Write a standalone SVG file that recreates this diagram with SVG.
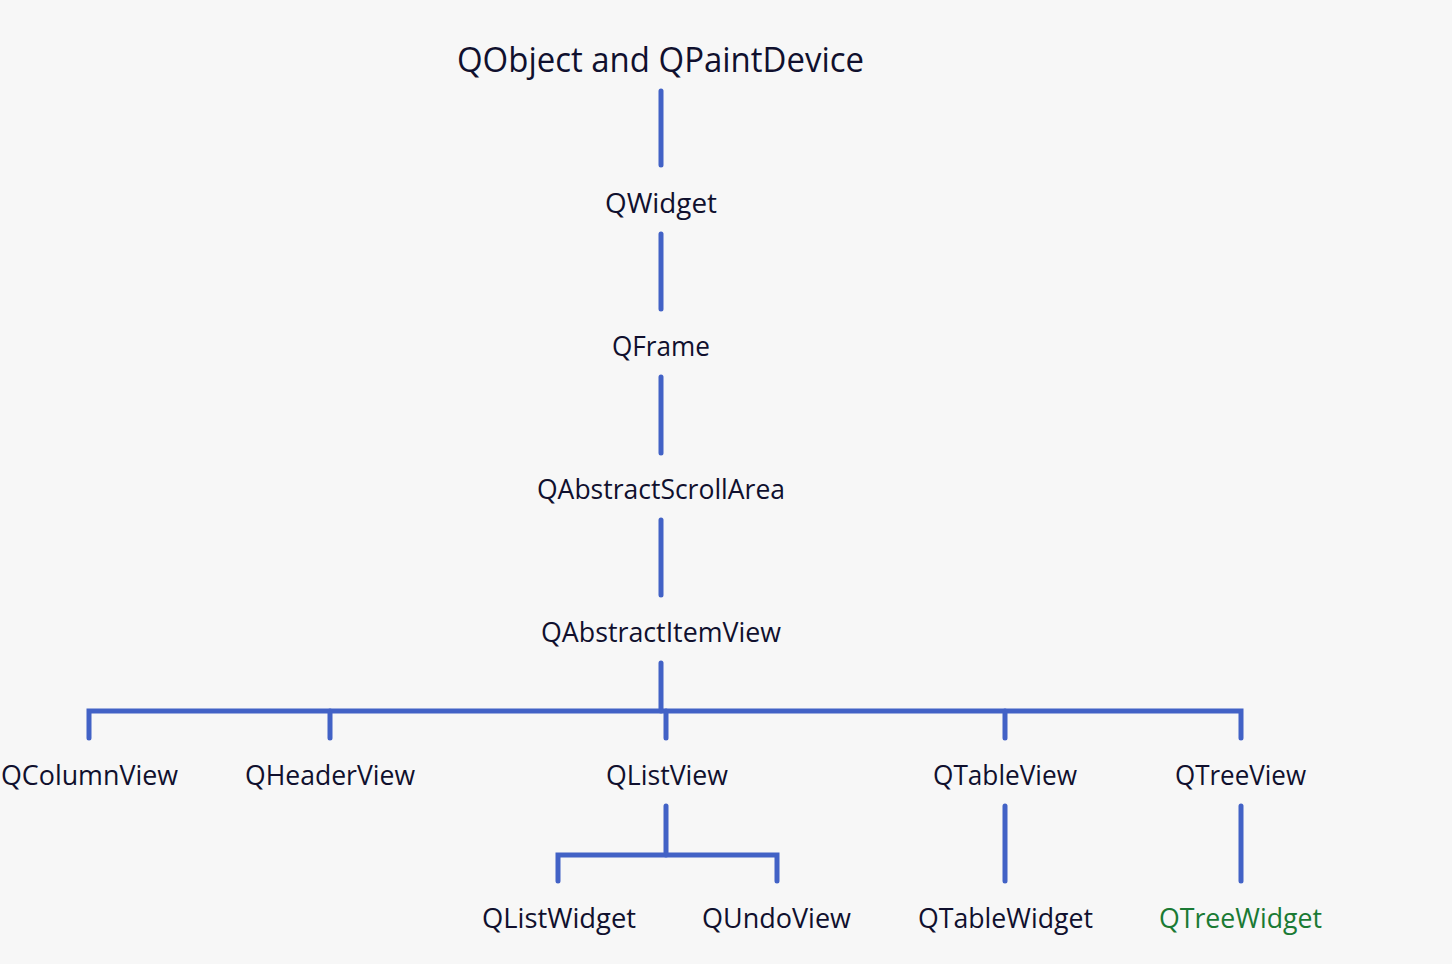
<svg xmlns="http://www.w3.org/2000/svg" width="1452" height="964" viewBox="0 0 1452 964">
<style>
.bg{fill:#f7f7f7}
text{font-family:"Open Sans","Noto Sans","Liberation Sans",sans-serif;fill:#10102e;text-anchor:middle;font-size:27.5px}
.title{font-size:34px}
.green{fill:#1a7a34}
.c{fill:none;stroke:#4262c6;stroke-width:5;stroke-linecap:round;stroke-linejoin:miter}
</style>
<rect class="bg" x="0" y="0" width="1452" height="964"/>
<g id="connectors">
<path class="c" d="M661 91V165"/>
<path class="c" d="M661 234V309"/>
<path class="c" d="M661 377V453"/>
<path class="c" d="M661 520V595"/>
<path class="c" d="M661 663V711"/>
<path class="c" d="M89 738V711H1241V738"/>
<path class="c" d="M330 711V738"/>
<path class="c" d="M666 711V738"/>
<path class="c" d="M1005 711V738"/>
<path class="c" d="M666 806V855"/>
<path class="c" d="M558 881V855H777V881"/>
<path class="c" d="M1005 806V881"/>
<path class="c" d="M1241 806V881"/>
</g>
<g id="n-root"><text class="title" x="660.5" y="72" textLength="407" lengthAdjust="spacingAndGlyphs">QObject and QPaintDevice</text></g>
<g id="n-qwidget"><text x="661" y="213" textLength="112" lengthAdjust="spacingAndGlyphs">QWidget</text></g>
<g id="n-qframe"><text x="661" y="356" textLength="98" lengthAdjust="spacingAndGlyphs">QFrame</text></g>
<g id="n-qabstractscrollarea"><text x="661" y="499" textLength="248" lengthAdjust="spacingAndGlyphs">QAbstractScrollArea</text></g>
<g id="n-qabstractitemview"><text x="661" y="642" textLength="240" lengthAdjust="spacingAndGlyphs">QAbstractItemView</text></g>
<g id="n-qcolumnview"><text x="89.5" y="785" textLength="177" lengthAdjust="spacingAndGlyphs">QColumnView</text></g>
<g id="n-qheaderview"><text x="330" y="785" textLength="170" lengthAdjust="spacingAndGlyphs">QHeaderView</text></g>
<g id="n-qlistview"><text x="667" y="785" textLength="122" lengthAdjust="spacingAndGlyphs">QListView</text></g>
<g id="n-qtableview"><text x="1005" y="785" textLength="144" lengthAdjust="spacingAndGlyphs">QTableView</text></g>
<g id="n-qtreeview"><text x="1240.5" y="785" textLength="131" lengthAdjust="spacingAndGlyphs">QTreeView</text></g>
<g id="n-qlistwidget"><text x="559" y="928" textLength="154" lengthAdjust="spacingAndGlyphs">QListWidget</text></g>
<g id="n-qundoview"><text x="776.5" y="928" textLength="149" lengthAdjust="spacingAndGlyphs">QUndoView</text></g>
<g id="n-qtablewidget"><text x="1005.5" y="928" textLength="175" lengthAdjust="spacingAndGlyphs">QTableWidget</text></g>
<g id="n-qtreewidget"><text class="green" x="1240.5" y="928" textLength="163" lengthAdjust="spacingAndGlyphs">QTreeWidget</text></g>
</svg>
